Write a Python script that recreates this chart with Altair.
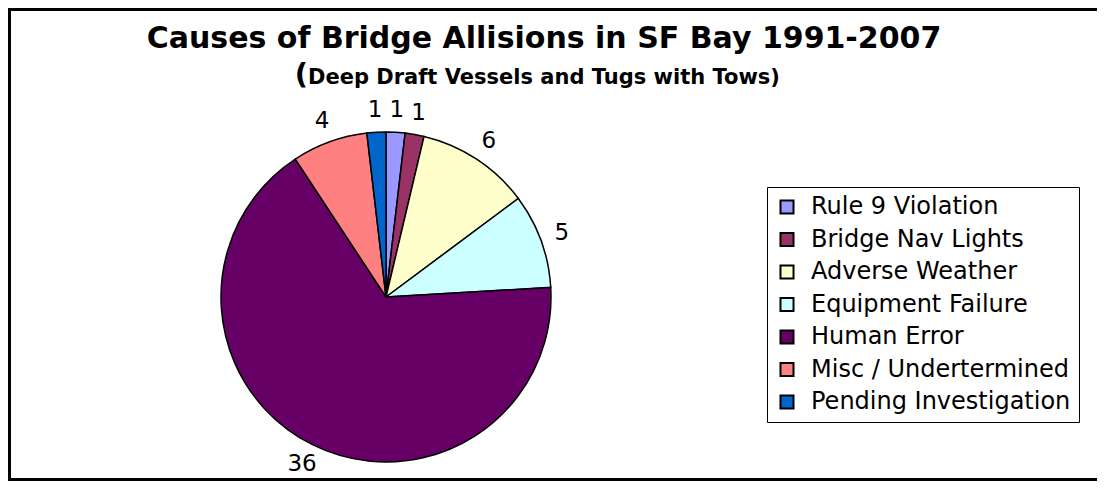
import altair as alt
import pandas as pd

# ---- data ----
categories = ["Rule 9 Violation", "Bridge Nav Lights", "Adverse Weather",
              "Equipment Failure", "Human Error", "Misc / Undertermined",
              "Pending Investigation"]
values = [1, 1, 6, 5, 36, 4, 1]
colors = ["#9999FF", "#993366", "#FFFFCC", "#CCFFFF", "#660066", "#FF8080", "#0066CC"]

TITLE = "Causes of Bridge Allisions in SF Bay 1991-2007"
SUB_PAREN = "("
SUBTITLE = "Deep Draft Vessels and Tugs with Tows)"

W, H = 1089, 473
CX, CY, R = 378, 289, 165
FONT = "DejaVu Sans"

df = pd.DataFrame({"cause": categories, "value": values, "idx": list(range(len(values)))})

theta = alt.Theta("value:Q", stack=True)
order = alt.Order("idx:Q", sort="ascending")

pie = alt.Chart(df).mark_arc(outerRadius=R, stroke="black", strokeWidth=1.5).encode(
    theta=theta,
    order=order,
    x=alt.value(CX),
    y=alt.value(CY),
    color=alt.Color(
        "cause:N",
        scale=alt.Scale(domain=categories, range=colors),
        sort=categories,
        legend=alt.Legend(
            title=None, orient="none", legendX=759, legendY=179,
            symbolType="square", symbolSize=170, symbolStrokeColor="black",
            symbolStrokeWidth=2, labelFont=FONT, labelFontSize=24,
            labelColor="black", rowPadding=8.5, padding=8, labelOffset=12,
            strokeColor="black", labelLimit=400,
        ),
    ),
)

labels = alt.Chart(df).mark_text(radius=R + 22, font=FONT, fontSize=23, color="black").encode(
    theta=theta,
    order=order,
    x=alt.value(CX),
    y=alt.value(CY),
    text="value:Q",
)

title_df = pd.DataFrame({"t": [TITLE]})
title = alt.Chart(title_df).mark_text(
    font=FONT, fontSize=30, fontWeight="bold", align="center", baseline="alphabetic", color="black"
).encode(x=alt.value(536), y=alt.value(40), text="t:N")

paren_df = pd.DataFrame({"t": [SUB_PAREN]})
paren = alt.Chart(paren_df).mark_text(
    font=FONT, fontSize=29, fontWeight="bold", align="right", baseline="alphabetic", color="black"
).encode(x=alt.value(300), y=alt.value(76), text="t:N")

sub_df = pd.DataFrame({"t": [SUBTITLE]})
sub = alt.Chart(sub_df).mark_text(
    font=FONT, fontSize=21, fontWeight="bold", align="left", baseline="alphabetic", color="black"
).encode(x=alt.value(300), y=alt.value(76), text="t:N")

frame_df = pd.DataFrame({"k": [0]})
left = alt.Chart(frame_df).mark_rule(color="black", strokeWidth=3).encode(
    x=alt.value(1.5), y=alt.value(0), y2=alt.value(H))
top = alt.Chart(frame_df).mark_rule(color="black", strokeWidth=3).encode(
    x=alt.value(0), x2=alt.value(W), y=alt.value(1.5))
bottom = alt.Chart(frame_df).mark_rule(color="black", strokeWidth=3).encode(
    x=alt.value(0), x2=alt.value(W), y=alt.value(H - 1.5))

chart = alt.layer(pie, labels, title, paren, sub, left, top, bottom).properties(
    width=W, height=H, autosize=alt.AutoSizeParams(type="none"), padding=0,
    background="white",
).configure_view(stroke=None)

chart.save("out.html", embed_options={"renderer": "svg", "actions": False})
